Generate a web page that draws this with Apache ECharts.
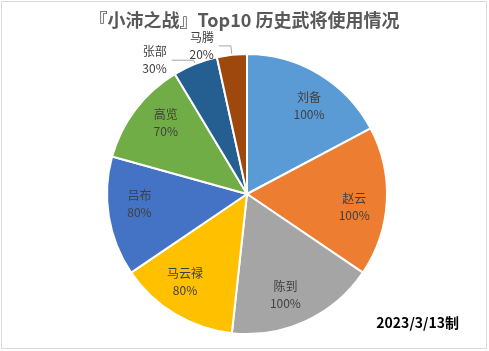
<!DOCTYPE html>
<html><head><meta charset="utf-8">
<script src="https://cdn.jsdelivr.net/npm/echarts@6/dist/echarts.min.js"></script>
<style>html,body{margin:0;padding:0;background:#fff}#c{width:489px;height:351px}</style>
</head><body><div id="c"></div>
<script>
const categories = ['刘备','赵云','陈到','马云禄','吕布','高览','张部','马腾'];
const usageRates = [100,100,100,80,80,70,30,20];
const sliceColors = ['#5B9BD5','#ED7D31','#A5A5A5','#FFC000','#4472C4','#70AD47','#255E91','#9E480E'];
const titleText = '『小沛之战』Top10 历史武将使用情况';
const footerText = '2023/3/13制';
const outsideLabelNames = ['张部','马腾'];
const outsideLeader = {'张部':{length:4, length2:22}, '马腾':{length:9, length2:12}};

const font = '"Noto Sans CJK SC", "Noto Sans CJK JP", sans-serif';
const chart = echarts.init(document.getElementById('c'), null, {renderer:'canvas'});
const CX = 247, CY = 194, R = 140;

const mainData = categories.map((n,i)=>{
  const out = outsideLabelNames.includes(n);
  return {
    name:n, value:usageRates[i],
    itemStyle:{color:sliceColors[i]},
    label:{show: out},
    labelLine: out ? Object.assign({show:true}, outsideLeader[n]) : {show:false}
  };
});
const labelData = categories.map((n,i)=>({
  name:n, value:usageRates[i],
  label:{show: !outsideLabelNames.includes(n)}
}));

chart.setOption({
  backgroundColor:'#fff',
  animation:false,
  title:{text:titleText, left:'center', top:6,
    textStyle:{fontFamily:font, fontSize:18, fontWeight:'bold', color:'#595959'}},
  graphic:[
    {type:'rect', shape:{x:1.5,y:1.5,width:485,height:347}, style:{fill:'none', stroke:'#d9d9d9', lineWidth:1}, silent:true},
    {type:'text', right:30, top:316, style:{text:footerText, font:'bold 14px ' + font, fill:'#000'}}
  ],
  series:[
    {type:'pie', center:[CX,CY], radius:[0,R], startAngle:90, clockwise:true, silent:true,
     avoidLabelOverlap:false,
     itemStyle:{borderColor:'#fff', borderWidth:2},
     label:{position:'outside', formatter:'{b}\n{c}%', fontFamily:font, fontSize:12, color:'#404040', lineHeight:17},
     labelLine:{lineStyle:{color:'#a6a6a6', width:1}},
     data:mainData},
    {type:'pie', center:[CX,CY], radius:[70,R], startAngle:86, clockwise:true, silent:true,
     avoidLabelOverlap:false,
     itemStyle:{color:'rgba(0,0,0,0)', borderWidth:0},
     label:{position:'inside', formatter:'{b}\n{c}%', fontFamily:font, fontSize:12, color:'#404040', lineHeight:17},
     labelLine:{show:false},
     data:labelData}
  ]
});
</script></body></html>
